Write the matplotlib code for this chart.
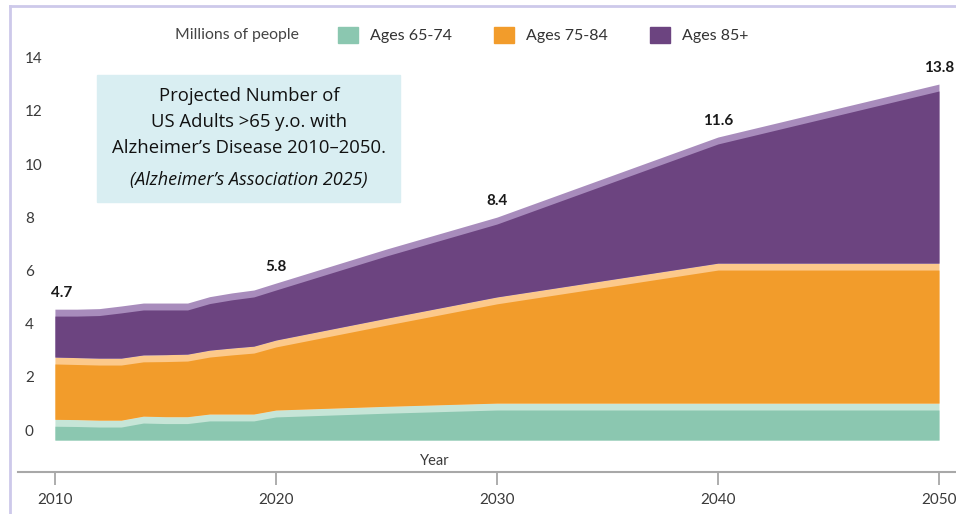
import matplotlib.pyplot as plt
from matplotlib.patches import Rectangle, Patch
from matplotlib.lines import Line2D
from matplotlib.transforms import ScaledTranslation
import numpy as np

# values (millions of people)
years = [2010, 2011, 2012, 2013, 2014, 2015, 2016, 2017, 2018, 2019, 2020, 2025, 2030, 2040, 2050]
ages_65_74 = [0.78, 0.77, 0.75, 0.75, 0.90, 0.88, 0.88, 0.98, 0.98, 0.98, 1.13, 1.27, 1.39, 1.39, 1.39]
ages_75_84 = [2.34, 2.33, 2.33, 2.33, 2.30, 2.33, 2.35, 2.40, 2.48, 2.55, 2.63, 3.31, 3.99, 5.26, 5.26]
ages_85_plus = [1.80, 1.82, 1.86, 1.96, 1.95, 1.94, 1.92, 2.01, 2.07, 2.11, 2.14, 2.60, 3.00, 4.74, 6.73]

label_years = [2010, 2020, 2030, 2040, 2050]
label_texts = ['4.7', '5.8', '8.4', '11.6', '13.8']
x_ticks = [2010, 2020, 2030, 2040, 2050]
y_ticks = [0, 2, 4, 6, 8, 10, 12, 14]
legend_labels = ['Ages 65-74', 'Ages 75-84', 'Ages 85+']

dark = ['#8bc7b0', '#f29c2b', '#6c4480']
light = ['#c6e5d7', '#fcc98b', '#a88cbc']
band = 0.26

fig = plt.figure(figsize=(9.56, 5.14), dpi=100)
ax = fig.add_axes([18 / 956, 42 / 514, 938 / 956, 472 / 514])

x = np.array(years)
layers = [np.array(ages_65_74), np.array(ages_75_84), np.array(ages_85_plus)]
bottom = np.zeros(len(years))
for i, vals in enumerate(layers):
    top = bottom + vals
    ax.fill_between(x, bottom, top, color=light[i], lw=0)
    ax.fill_between(x, bottom, top - band, color=dark[i], lw=0)
    bottom = top
total = bottom

# total labels
for yr, txt in zip(label_years, label_texts):
    k = years.index(yr)
    dx = 7 if yr == 2010 else 0
    ax.annotate(txt, (yr, total[k]), xytext=(dx, 16), textcoords='offset pixels',
                ha='center', va='center', fontsize=11, fontweight='bold',
                color='#1a1a1a', family='Lato')

ax.set_xlim(2008.33, 2050.77)
ax.set_ylim(-1.2, 16.54)
ax.set_xticks(x_ticks)
ax.set_yticks(y_ticks)
ax.set_xticklabels([str(t) for t in x_ticks], family='Lato', fontsize=11, color='#3a3a3a')
ax.set_yticklabels([str(t) for t in y_ticks], family='Lato', fontsize=11, color='#3a3a3a')
ax.tick_params(axis='x', direction='out', length=9, width=1.2, color='#a0a0a0', pad=6)
ax.tick_params(axis='y', length=0, pad=-5)
off = ScaledTranslation(0, 0.10, fig.dpi_scale_trans)
for lab in ax.get_yticklabels():
    lab.set_horizontalalignment('left')
    lab.set_transform(lab.get_transform() + off)

for s in ['left', 'right', 'top']:
    ax.spines[s].set_visible(False)
ax.spines['bottom'].set_color('#a8a8a8')
ax.spines['bottom'].set_linewidth(1.5)

ax.text(2027.2, -0.8, 'Year', ha='center', va='center', fontsize=10.5,
        family='Lato', color='#3a3a3a')

# legend
fig.text(237 / 956, 1 - 35 / 514, 'Millions of people', ha='center', va='center',
         fontsize=11.3, family='Lato', color='#444444')
handles = [Patch(color=c) for c in dark]
fig.legend(handles, legend_labels, loc='center left', bbox_to_anchor=(338 / 956, 1 - 35 / 514),
           ncol=3, frameon=False, borderpad=0, borderaxespad=0, handlelength=1.25,
           handleheight=1.15, handletextpad=0.75, columnspacing=2.65,
           prop={'family': 'Lato', 'size': 11.5}, labelcolor='#333333')

# title box
fig.patches.append(Rectangle((97 / 956, 1 - 202 / 514), 303 / 956, 127 / 514,
                             transform=fig.transFigure, color='#d9eef2', zorder=0))
cx = 249 / 956
box_lines = ['Projected Number of', 'US Adults >65 y.o. with', 'Alzheimer\u2019s Disease 2010\u20132050.']
for txt, yy in zip(box_lines, [96, 122, 148]):
    fig.text(cx, 1 - yy / 514, txt, ha='center', va='center', fontsize=13.3,
             family='Open Sans', color='#111111')
fig.text(cx, 1 - 180 / 514, '(Alzheimer\u2019s Association 2025)', ha='center', va='center',
         fontsize=13, family='Open Sans', style='italic', color='#111111')

# frame lines
fig.add_artist(Line2D([10 / 956, 10 / 956], [0, 1 - 6 / 514], transform=fig.transFigure,
                      color='#cdc9ea', lw=2))
fig.add_artist(Line2D([10 / 956, 1], [1 - 6 / 514, 1 - 6 / 514], transform=fig.transFigure,
                      color='#cdc9ea', lw=2))

fig.savefig('out.png', dpi=100)
